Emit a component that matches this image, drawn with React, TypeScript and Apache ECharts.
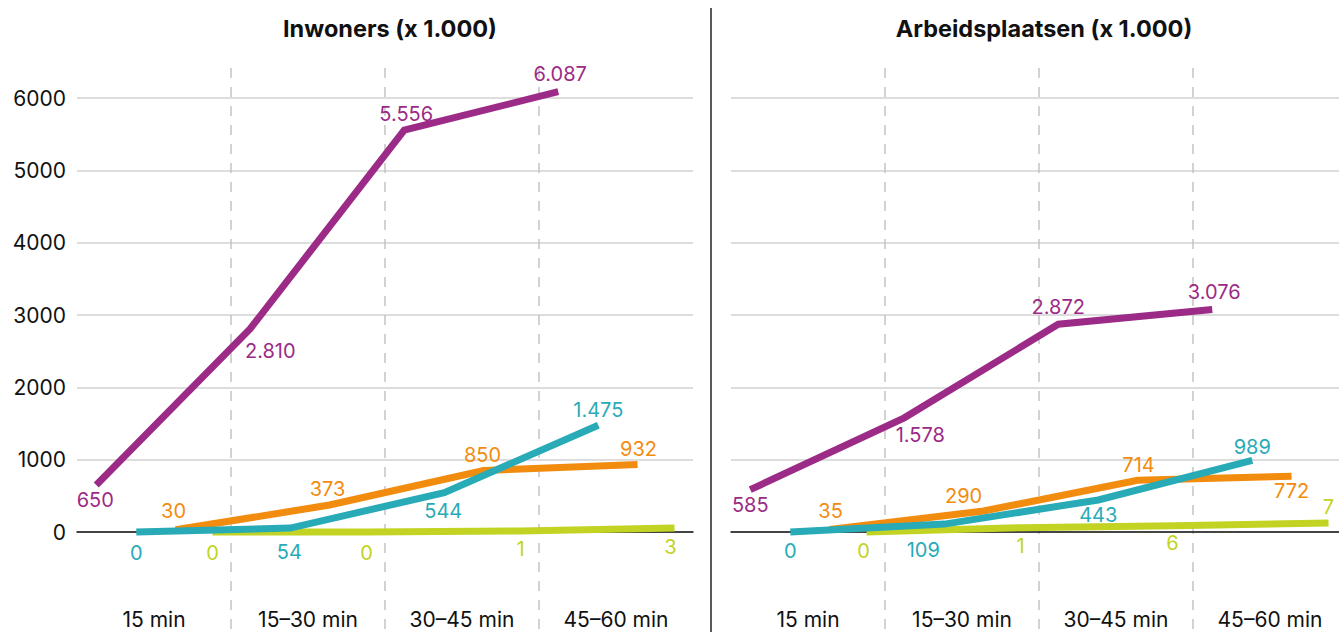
import React, { useEffect, useRef } from 'react';
import * as echarts from 'echarts';

// ---------- data ----------
const categories = ['15 min', '15–30 min', '30–45 min', '45–60 min'];
const panelTitles = ['Inwoners (x 1.000)', 'Arbeidsplaatsen (x 1.000)'];

// Inwoners (x 1.000)
const inwPurple = [650, 2810, 5556, 6087];
const inwTeal = [0, 54, 544, 1475];
const inwOrange = [30, 373, 850, 932];
const inwGreen = [0, 0, 15, 55]; // drawn height
const inwGreenLabels = ['0', '0', '1', '3'];

// Arbeidsplaatsen (x 1.000)
const arbPurple = [585, 1578, 2872, 3076];
const arbTeal = [0, 109, 443, 989];
const arbOrange = [35, 290, 714, 772];
const arbGreen = [0, 60, 85, 125]; // drawn height
const arbGreenLabels = ['0', '1', '6', '7'];

const yMin = 0;
const yMax = 6000;
const yInterval = 1000;

// ---------- styling / layout ----------
const COLORS = { purple: '#9b2b86', teal: '#28abb6', orange: '#f28c0e', green: '#c2d324' };
const FONT = 'Inter, "Noto Sans", sans-serif';
const offsetsInCategory = { purple: 0.125, teal: 0.385, orange: 0.64, green: 0.88 };

type Place = [string, number, number];
const leftPlaces: Record<string, Place[]> = {
  purple: [['bottom', -1, 0], ['bottom', 20, 7], ['top', 2, -1], ['top', 2, -2]],
  teal: [['bottom', 0, 5], ['bottom', -1, 8], ['bottom', -1, 3], ['top', 0, 0]],
  orange: [['top', -2, -3], ['top', -2, -1], ['top', -1, 0], ['top', 1, 0]],
  green: [['bottom', 0, 5], ['bottom', 0, 5], ['bottom', 0, 3], ['bottom', -4, 3]],
};
const rightPlaces: Record<string, Place[]> = {
  purple: [['bottom', 0, 0], ['bottom', 16, 2], ['top', 0, -2], ['top', 2, -2]],
  teal: [['bottom', 0, 3], ['bottom', -21, 10], ['bottom', 0, 0], ['top', 0, 2]],
  orange: [['top', 1, -3], ['top', -20, 0], ['top', 1, 0], ['bottom', 0, -1]],
  green: [['bottom', -3, 3], ['bottom', 0, 3], ['bottom', -2, 2], ['top', 0, 0]],
};

const fmt = (v: number) => String(v).replace(/\B(?=(\d{3})+(?!\d))/g, '.');

const GRID_W = 616;
const panels = [
  { left: 77, title: panelTitles[0], showY: true, places: leftPlaces,
    data: { green: inwGreen, orange: inwOrange, teal: inwTeal, purple: inwPurple },
    labels: { green: inwGreenLabels } as Record<string, string[]> },
  { left: 731, title: panelTitles[1], showY: false, places: rightPlaces,
    data: { green: arbGreen, orange: arbOrange, teal: arbTeal, purple: arbPurple },
    labels: { green: arbGreenLabels } as Record<string, string[]> },
];

export default function App() {
  const ref = useRef<HTMLDivElement>(null);
  useEffect(() => {
    document.body.style.margin = '0';
    document.body.style.overflow = 'hidden';
    const chart = echarts.init(ref.current!, null, { renderer: 'svg' });

    const grid: any[] = [];
    const xAxis: any[] = [];
    const yAxis: any[] = [];
    const series: any[] = [];
    const title: any[] = [];

    panels.forEach((p, pi) => {
      const gMain = grid.length;
      grid.push({ left: p.left, width: GRID_W, top: 98, height: 434 });
      const gOver = grid.length;
      grid.push({ left: p.left, width: GRID_W, top: 68, height: 564 });

      title.push({
        text: p.title, left: p.left + GRID_W / 2, top: 11, textAlign: 'center',
        textStyle: { fontFamily: FONT, fontSize: 23.5, fontWeight: 'bold', color: '#111' },
      });

      xAxis.push({
        type: 'category', gridIndex: gMain, data: categories, boundaryGap: true,
        axisLine: { show: true, lineStyle: { color: '#111', width: 1.5 } },
        axisTick: { show: false },
        splitLine: { show: false },
        axisLabel: { margin: 77, fontFamily: FONT, fontSize: 21, color: '#111' },
      });
      const xVal = xAxis.length;
      xAxis.push({ type: 'value', gridIndex: gMain, min: 0, max: categories.length, show: false });
      xAxis.push({
        type: 'category', gridIndex: gOver, data: categories, boundaryGap: true,
        axisLine: { show: false }, axisTick: { show: false }, axisLabel: { show: false },
        splitLine: {
          show: true, showMinLine: false, showMaxLine: false,
          lineStyle: { color: '#c4c4c4', width: 1.5, type: [10, 9] },
        },
      });

      const yMain = yAxis.length;
      yAxis.push({
        type: 'value', gridIndex: gMain, min: yMin, max: yMax, interval: yInterval,
        axisLine: { show: false }, axisTick: { show: false },
        axisLabel: {
          show: p.showY, margin: 11, fontFamily: FONT, fontSize: 21, color: '#111',
          formatter: (v: number) => String(v),
        },
        splitLine: { show: true, lineStyle: { color: '#d2d2d2', width: 1.5 } },
      });
      yAxis.push({ type: 'value', gridIndex: gOver, show: false, splitLine: { show: false } });

      (['green', 'orange', 'teal', 'purple'] as const).forEach((key) => {
        const vals: number[] = (p.data as any)[key];
        const texts = p.labels[key];
        const places = p.places[key];
        series.push({
          type: 'line', name: `${pi}-${key}`, xAxisIndex: xVal, yAxisIndex: yMain,
          clip: false, symbol: 'circle', symbolSize: 1, showSymbol: true,
          itemStyle: { color: 'rgba(0,0,0,0)' },
          lineStyle: { color: COLORS[key], width: 7, cap: 'butt', join: 'miter' },
          emphasis: { disabled: true },
          z: 3,
          data: vals.map((v, i) => ({
            value: [i + offsetsInCategory[key], v],
            label: {
              show: true, position: places[i][0], distance: 5,
              offset: [places[i][1], places[i][2]],
              formatter: texts ? texts[i] : fmt(v),
              color: COLORS[key], fontFamily: FONT, fontSize: 20,
            },
          })),
        });
      });
    });

    chart.setOption({
      animation: false,
      backgroundColor: '#ffffff',
      title, grid, xAxis, yAxis, series,
      graphic: [
        { type: 'line', shape: { x1: 711, y1: 8, x2: 711, y2: 632 }, style: { stroke: '#222', lineWidth: 1.5 } },
      ],
    });
    return () => chart.dispose();
  }, []);
  return <div ref={ref} style={{ width: 1360, height: 632 }} />;
}
